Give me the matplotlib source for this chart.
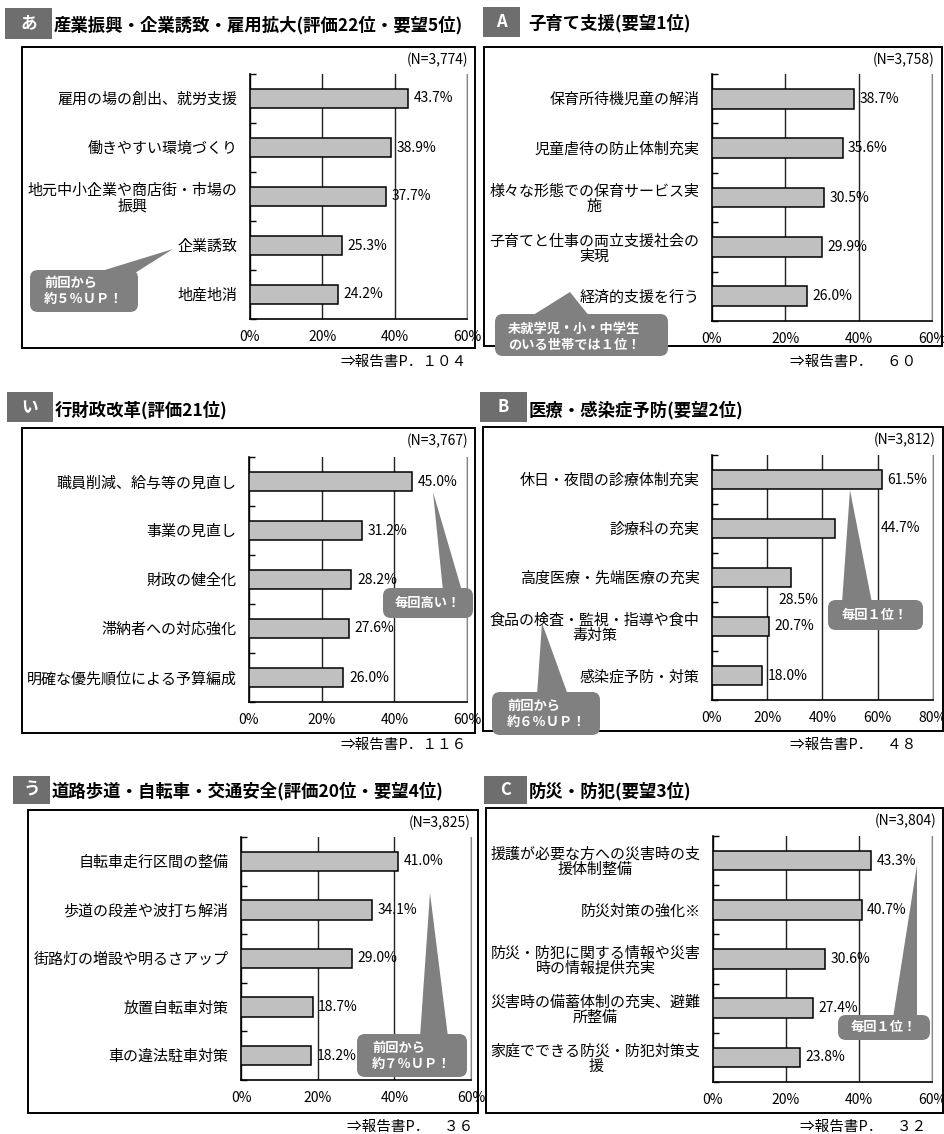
import numpy as np
import matplotlib
matplotlib.use("Agg")
import matplotlib.pyplot as plt
from matplotlib.patches import FancyBboxPatch, Polygon, Rectangle

plt.rcParams['font.family'] = ['Noto Sans CJK JP', 'DejaVu Sans']

W, H = 945, 1134
BAR = '#c0c0c0'
CALL = '#808080'
HEAD = '#6e6e6e'

# ---- data ----
cats_a = ["雇用の場の創出、就労支援", "働きやすい環境づくり", "地元中小企業や商店街・市場の\n振興",
          "企業誘致", "地産地消"]
vals_a = [43.7, 38.9, 37.7, 25.3, 24.2]

cats_A = ["保育所待機児童の解消", "児童虐待の防止体制充実", "様々な形態での保育サービス実\n施",
          "子育てと仕事の両立支援社会の\n実現", "経済的支援を行う"]
vals_A = [38.7, 35.6, 30.5, 29.9, 26.0]

cats_i = ["職員削減、給与等の見直し", "事業の見直し", "財政の健全化", "滞納者への対応強化",
          "明確な優先順位による予算編成"]
vals_i = [45.0, 31.2, 28.2, 27.6, 26.0]

cats_B = ["休日・夜間の診療体制充実", "診療科の充実", "高度医療・先端医療の充実",
          "食品の検査・監視・指導や食中\n毒対策", "感染症予防・対策"]
vals_B = [61.5, 44.7, 28.5, 20.7, 18.0]

cats_u = ["自転車走行区間の整備", "歩道の段差や波打ち解消", "街路灯の増設や明るさアップ",
          "放置自転車対策", "車の違法駐車対策"]
vals_u = [41.0, 34.1, 29.0, 18.7, 18.2]

cats_C = ["援護が必要な方への災害時の支\n援体制整備", "防災対策の強化※",
          "防災・防犯に関する情報や災害\n時の情報提供充実", "災害時の備蓄体制の充実、避難\n所整備",
          "家庭でできる防災・防犯対策支\n援"]
vals_C = [43.3, 40.7, 30.6, 27.4, 23.8]

fig = plt.figure(figsize=(W / 100, H / 100), dpi=100)
fig.patch.set_facecolor('white')


def px_axes(l, t, r, b):
    return fig.add_axes([l / W, 1 - b / H, (r - l) / W, (b - t) / H])


def bar_panel(rect, cats, vals, xmax, moved=None):
    ax = px_axes(*rect)
    y = np.arange(len(cats))
    ax.barh(y, vals, height=0.4, color=BAR, edgecolor='black', linewidth=1.1, zorder=3)
    ax.set_xlim(0, xmax)
    ax.set_ylim(len(cats) - 0.5, -0.5)
    ticks = np.arange(0, xmax + 1, 20)
    ax.set_xticks(ticks)
    ax.set_xticklabels([f"{t}%" for t in ticks])
    ax.tick_params(axis='x', length=0, pad=8, labelsize=10)
    ax.set_yticks(y)
    ax.set_yticklabels(cats, fontsize=10.8, linespacing=1.1)
    for lab in ax.get_yticklabels():
        lab.set_multialignment('center')
    ax.tick_params(axis='y', which='major', length=0, pad=9)
    ax.set_yticks(np.arange(len(cats) + 1) - 0.5, minor=True)
    ax.tick_params(axis='y', which='minor', direction='in', length=4, width=1)
    ax.grid(axis='x', color='#222222', lw=1, zorder=1)
    ax.spines['top'].set_visible(False)
    ax.spines['right'].set_color('#888888')
    ax.spines['left'].set_linewidth(1.2)
    ax.spines['bottom'].set_linewidth(1.2)
    moved = moved or {}
    for i, v in enumerate(vals):
        if i in moved:
            mx, my, ha = moved[i]
            ax.text(mx, my, f"{v:.1f}%", ha=ha, va='center', fontsize=10, zorder=4)
        else:
            ax.annotate(f"{v:.1f}%", (v, i), xytext=(4, 0), textcoords='offset points',
                        ha='left', va='center', fontsize=10, zorder=4)
    return ax


bar_panel((250, 74, 467, 319), cats_a, vals_a, 60)
bar_panel((712, 74, 932, 321), cats_A, vals_A, 60)
bar_panel((249, 457, 467, 702), cats_i, vals_i, 60)
bar_panel((712, 455, 933, 700), cats_B, vals_B, 80,
          moved={1: (61.0, 1, 'left'), 2: (38.4, 2.45, 'right')})
bar_panel((241, 837, 471, 1080), cats_u, vals_u, 60)
bar_panel((713, 836, 932, 1082), cats_C, vals_C, 60)

# ---- overlay in pixel coordinates: frames, headers, notes, callouts ----
ov = fig.add_axes([0, 0, 1, 1])
ov.set_xlim(0, W)
ov.set_ylim(H, 0)
ov.axis('off')
ov.set_zorder(10)


def frame(l, t, r, b, n_text, ref_text, ref_x, ref_y):
    ov.add_patch(Rectangle((l, t), r - l, b - t, fill=False, ec='black', lw=1.4))
    ov.text(r - 7, t + 13, n_text, ha='right', va='center', fontsize=10)
    ov.text(ref_x, ref_y, ref_text, ha='left', va='center', fontsize=10.5)


def header(box, letter, title, tx, ty):
    x0, y0, x1, y1 = box
    ov.add_patch(Rectangle((x0, y0), x1 - x0, y1 - y0, fc=HEAD, ec='none'))
    ov.text((x0 + x1) / 2, (y0 + y1) / 2, letter, color='white', fontweight='bold',
            fontsize=12, ha='center', va='center')
    ov.text(tx, ty, title, fontweight='bold', fontsize=12.5, ha='left', va='center')


def callout(box, base, tip, text, tx, ty, ha='left'):
    x0, y0, x1, y1 = box
    ov.add_patch(FancyBboxPatch((x0, y0), x1 - x0, y1 - y0,
                                boxstyle="round,pad=0,rounding_size=8", fc=CALL, ec='none', zorder=5))
    ov.add_patch(Polygon([(base[0], y0 + 3), (base[1], y0 + 3), tip], closed=True,
                         fc=CALL, ec='none', zorder=5))
    ov.text(tx, ty, text, color='white', fontweight='bold', fontsize=9.5, ha=ha, va='center',
            linespacing=1.2, zorder=6)


frame(22, 47, 475, 348, "(N=3,774)", "⇒報告書P．１０４", 340, 362)
frame(484, 47, 942, 346, "(N=3,758)", "⇒報告書P．　６０", 790, 362)
frame(22, 428, 475, 733, "(N=3,767)", "⇒報告書P．１１６", 340, 745)
frame(483, 427, 943, 731, "(N=3,812)", "⇒報告書P．　４８", 790, 745)
frame(28, 810, 478, 1113, "(N=3,825)", "⇒報告書P．　３６", 347, 1127)
frame(486, 808, 943, 1113, "(N=3,804)", "⇒報告書P．　３２", 800, 1127)

header((5, 8, 52, 39), "あ", "産業振興・企業誘致・雇用拡大(評価22位・要望5位)", 54, 25)
header((483, 7, 520, 37), "A", "子育て支援(要望1位)", 528, 23)
header((7, 392, 53, 422), "い", "行財政改革(評価21位)", 55, 410)
header((480, 392, 527, 422), "B", "医療・感染症予防(要望2位)", 529, 410)
header((13, 776, 50, 804), "う", "道路歩道・自転車・交通安全(評価20位・要望4位)", 52, 791)
header((484, 776, 527, 804), "C", "防災・防犯(要望3位)", 529, 791)

callout((30, 270, 138, 312), (95, 135), (173, 249), "前回から\n約５％ＵＰ！", 44, 291)
callout((495, 314, 668, 356), (530, 590), (570, 292), "未就学児・小・中学生\nのいる世帯では１位！", 508, 337)
callout((383, 588, 473, 618), (443, 462), (433, 492), "毎回高い！", 428, 603, ha='center')
callout((828, 600, 923, 630), (842, 872), (850, 490), "毎回１位！", 875, 615, ha='center')
callout((492, 692, 600, 735), (537, 568), (542, 623), "前回から\n約６％ＵＰ！", 507, 714)
callout((357, 1034, 467, 1077), (420, 448), (430, 893), "前回から\n約７％ＵＰ！", 372, 1056)
callout((838, 1015, 930, 1040), (893, 917), (917, 865), "毎回１位！", 884, 1027, ha='center')

fig.savefig("out.png", dpi=100)
